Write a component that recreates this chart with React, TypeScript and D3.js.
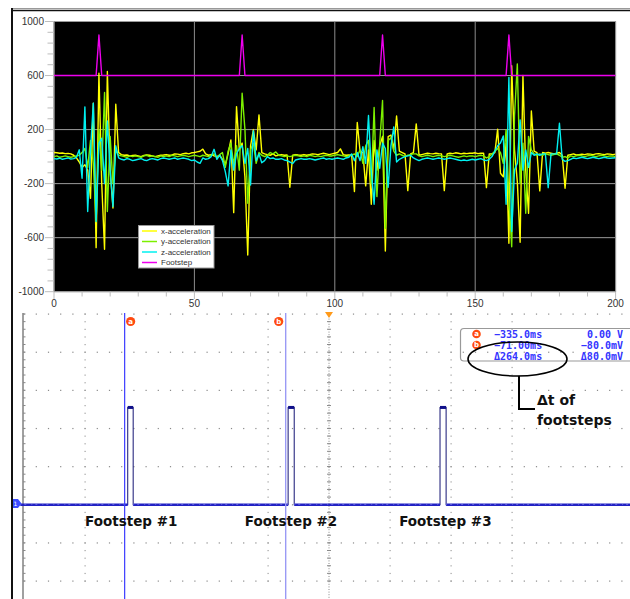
import * as d3 from "d3";

// accelerometer samples (one per index, 0..200)
const xAccel = [
  30, 28, 25, 27, 22, 24, 20, 10, -10, -40,
  -80, -60, -100, -309, 395, -674, 617, -200, -686, 630,
  -100, -380, 388, 30, 15, 10, 12, 5, 8, 10,
  5, 0, 8, 12, 10, 5, 0, 5, 10, 12,
  15, 10, 12, 20, 18, 15, 22, 25, 20, 28,
  30, 35, 40, 55, 20, 10, 15, 5, 0, 10,
  -20, -60, 20, 123, -415, 370, 50, 100, -150, -728,
  80, 200, 50, 309, 30, 20, 15, 10, 20, 5,
  10, 15, 10, 12, -227, 10, 15, 12, 10, 15,
  10, 15, 20, 18, 15, 20, 25, 20, 15,
  20, 25, 30, 57, 15, 10, 12, 10, -259, 252,
  40, 30, -217, 50, -353, 120, -100, 80, 150, -699,
  148, 160, 50, 301, 40, 30, 20, -252, 20, 30,
  242, 10, 15, 20, 25, 22, 20, 25, 22, 20,
  -252, 20, 25, 22, 28, 25, 20, 25, 22, 25,
  25, 28, 22, 25, 25, -230, 20, 20, 30, 203,
  -123, -150, 100, -642, 672, 50, -185, -634, 600, -100,
  -420, 338, 40, 30, -254, 30, 25, 30, 25, 20,
  25, 30, 10, -234, 10, 15, 20, 12, 15, 18,
  15, 20, 18, 15, 20, 22, 18, 15, 20, 18,
  15, 18,
];

const yAccel = [
  0, 5, -5, 0, 5, 0, -5, 0, 5, 10,
  30, 60, -80, 120, -50, -481, 200, -100, 474, -407,
  150, -200, 50, 10, 5, 0, -5, 5, 0, 5,
  0, -5, 5, 10, 0, 5, 0, -5, 5, 0,
  5, 0, 10, 5, 0, 5, 10, 5, 0, 5,
  10, 5, 0, 10, 5, 0, 10, 20, -10, 15,
  30, -80, 40, 100, -60, 80, -100, 469, 200, -346,
  50, 100, -50, 30, 10, 0, 10, 30, 20, 35,
  10, 5, 0, 5, 0, 5, 10, 5, 0, 5,
  0, 10, 5, 0, 5, 0, 5, 10, 5,
  5, 10, 15, 10, 5, 0, 5, 10, 20, 0,
  50, -50, 80, 120, -200, 363, -296, 100, 415, -530,
  120, 140, 40, 10, 20, 10, 0, 10, 15, 20,
  20, 5, 0, 5, 10, 5, 0, 5, 10, 5,
  0, 5, 10, 5, 0, -5, 0, 5, 0, 5,
  5, 0, 5, 10, 5, -10, 0, 20, 40, 60,
  30, -50, 200, -300, -667, 300, 686, -200, 100, -420,
  150, 50, 20, 10, 20, 10, 20, 15, 10, 15,
  20, 10, -5, 0, -10, 5, 0, 5, 10, 5,
  0, 5, 10, 5, 0, 5, 10, 5, 0, 5,
  5, 0,
];

const zAccel = [
  -15, -18, -12, -20, -15, -10, -18, -15, -5, 50,
  -160, 368, -407, 50, 395, -481, 100, 136, -200, 264,
  -100, -370, 80, -10, -20, -25, -15, -20, -30, -25,
  -20, -15, -25, -30, -20, -15, -20, -25, -15, -10,
  -15, -20, -15, -10, -20, -15, -10, -15, -20, -30,
  -25, -40, -50, -10, -20, -15, 0, 54, -20, 10,
  -30, -111, -217, 50, -100, 20, 60, 80, -50, 60,
  -210, 190, -30, 20, -45, -30, 0, -15, -10, -20,
  -20, -15, -25, -30, -40, -52, -25, -20, -15, -20,
  -20, -15, -20, -25, -20, -15, -10, -20, -15,
  -20, -15, -10, -15, -20, -10, -5, 20, -30, 30,
  -30, 74, -50, 304, -100, -353, 50, -86, 100, 60,
  -227, 80, 220, -40, -20, -10, 0, 5, 10, -10,
  -20, -30, -20, -15, -10, -15, -20, -15, -10, -15,
  -20, -15, -10, -15, -20, -25, -30, -25, -30, -25,
  -20, -25, -20, -15, -25, -30, -20, 0, 40, 80,
  100, 153, -353, 585, -555, -100, -50, 272, -100, 50,
  -80, 30, 10, 20, 10, 20, 20, -230, 20, 20,
  20, 247, -20, -35, -30, -20, -10, -15, -10, -5,
  -10, -15, -10, -5, -10, -15, -10, -5, -10, -12,
  -10, -8,
];

const footstep = [
  600, 600, 600, 600, 600, 600, 600, 600, 600, 600,
  600, 600, 600, 600, 600, 600, 900, 600, 600, 600,
  600, 600, 600, 600, 600, 600, 600, 600, 600, 600,
  600, 600, 600, 600, 600, 600, 600, 600, 600, 600,
  600, 600, 600, 600, 600, 600, 600, 600, 600, 600,
  600, 600, 600, 600, 600, 600, 600, 600, 600, 600,
  600, 600, 600, 600, 600, 600, 600, 900, 600, 600,
  600, 600, 600, 600, 600, 600, 600, 600, 600, 600,
  600, 600, 600, 600, 600, 600, 600, 600, 600, 600,
  600, 600, 600, 600, 600, 600, 600, 600, 600, 600,
  600, 600, 600, 600, 600, 600, 600, 600, 600, 600,
  600, 600, 600, 600, 600, 600, 600, 900, 600, 600,
  600, 600, 600, 600, 600, 600, 600, 600, 600, 600,
  600, 600, 600, 600, 600, 600, 600, 600, 600, 600,
  600, 600, 600, 600, 600, 600, 600, 600, 600, 600,
  600, 600, 600, 600, 600, 600, 600, 600, 600, 600,
  600, 600, 900, 600, 600, 600, 600, 600, 600, 600,
  600, 600, 600, 600, 600, 600, 600, 600, 600, 600,
  600, 600, 600, 600, 600, 600, 600, 600, 600, 600,
  600, 600, 600, 600, 600, 600, 600, 600, 600, 600,
  600,
];

const seriesNames = ["x-acceleration", "y-acceleration", "z-acceleration", "Footstep"];
const seriesColors = ["#ffff00", "#7cf000", "#00f0f0", "#ee00ee"];
const seriesValues = [xAccel, yAccel, zAccel, footstep];

const xTicks = [0, 50, 100, 150, 200];
const yTicks = [1000, 600, 200, -200, -600, -1000];

// scope capture (time in ms, volts)
const pulseStart = [-330, -67, 182];
const pulseEnd = [-321, -57, 192];
const pulseLevel = 2.55;
const cursorA = -335;
const cursorB = -71;
const readoutLeft = ["\u2212335.0ms", "\u221271.00ms", "\u0394264.0ms"];
const readoutRight = ["0.00 V", "\u221280.0mV", "\u039480.0mV"];
const stepLabels = ["Footstep #1", "Footstep #2", "Footstep #3"];
const stepLabelMs = [-400, -138, 115];
const dotCols = [-400, -100, 100, 200, 300];
const vRows = [5, 4, 3, 2, 1, 0, -1, -2];

const W = 630;
const H = 599;

export default function App() {
  // top chart
  const x = d3.scaleLinear().domain([0, 200]).range([54, 615.6]);
  const y = d3.scaleLinear().domain([-1000, 1000]).range([291.7, 21.5]);
  const line = d3
    .line<number>()
    .x((_, i) => x(i))
    .y((d) => y(d));

  const yMinor = d3.range(-1000, 1001, 80);
  const xMinor = d3.range(0, 201, 10);

  // bottom scope
  const t = d3.scaleLinear().domain([-500, 500]).range([24, 634]);
  const v = d3.scaleLinear().domain([-2, 5]).range([581, 314]);

  const sig: [number, number][] = [[-506, 0]];
  pulseStart.forEach((s, i) => {
    sig.push([s, 0], [s, pulseLevel], [pulseEnd[i], pulseLevel], [pulseEnd[i], 0]);
  });
  sig.push([510, 0]);
  const sigLine = d3
    .line<[number, number]>()
    .x((d) => t(d[0]))
    .y((d) => v(d[1]));

  // flat stretches of the trace between pulses
  const lowStarts = [-506, ...pulseEnd];
  const lowEnds = [...pulseStart, 510];

  const rowDots = d3.range(-500, 501, 20);
  const colDots = d3.range(-2, 5.01, 0.2);
  const legendY = [231, 241.5, 252, 262.5];

  return (
    <svg
      width={W}
      height={H}
      style={{ position: "absolute", left: 0, top: 0, display: "block", background: "#fff" }}
    >
      <defs>
        <clipPath id="plot">
          <rect x={54} y={21.5} width={561.6} height={270.2} />
        </clipPath>
      </defs>

      {/* window frame */}
      <line x1={12} x2={W} y1={8.5} y2={8.5} stroke="#999" />
      <line x1={12} x2={W} y1={10.5} y2={10.5} stroke="#111" strokeWidth={1.6} />
      <line x1={12} x2={12} y1={8} y2={H} stroke="#111" strokeWidth={2} />

      {/* top plot */}
      <rect x={54} y={21.5} width={561.6} height={270.2} fill="#000" stroke="#a8a8a8" />
      {yTicks.map((d) => (
        <line key={"gy" + d} x1={54} x2={615.6} y1={y(d)} y2={y(d)} stroke="#9a9a9a" />
      ))}
      {xTicks.map((d) => (
        <line key={"gx" + d} x1={x(d)} x2={x(d)} y1={21.5} y2={291.7} stroke="#8c8c8c" />
      ))}
      {yMinor.map((d) => (
        <line
          key={"my" + d}
          x1={yTicks.includes(d) ? 45 : 47.5}
          x2={54}
          y1={y(d)}
          y2={y(d)}
          stroke="#bdbdbd"
        />
      ))}
      {xMinor.map((d) => (
        <line
          key={"mx" + d}
          x1={x(d)}
          x2={x(d)}
          y1={291.7}
          y2={xTicks.includes(d) ? 299 : 296.5}
          stroke="#bdbdbd"
        />
      ))}
      {yTicks.map((d) => (
        <text
          key={"ty" + d}
          x={44}
          y={y(d)}
          dy="0.35em"
          textAnchor="end"
          fontFamily="Liberation Sans, Arial, sans-serif"
          fontSize={10}
          fill="#333"
        >
          {d}
        </text>
      ))}
      {xTicks.map((d) => (
        <text
          key={"tx" + d}
          x={x(d)}
          y={303.5}
          dy="0.35em"
          textAnchor="middle"
          fontFamily="Liberation Sans, Arial, sans-serif"
          fontSize={10}
          fill="#333"
        >
          {d}
        </text>
      ))}
      <g clipPath="url(#plot)">
        {seriesValues.map((vals, i) => (
          <path
            key={seriesNames[i]}
            d={line(vals) ?? ""}
            fill="none"
            stroke={seriesColors[i]}
            strokeWidth={1.4}
            strokeLinejoin="round"
          />
        ))}
      </g>

      {/* legend */}
      <rect x={138.5} y={225.5} width={75.5} height={42.5} fill="#fff" stroke="#999" />
      {seriesNames.map((n, i) => (
        <g key={"lg" + n}>
          <line x1={142} x2={157} y1={legendY[i]} y2={legendY[i]} stroke={seriesColors[i]} strokeWidth={1.5} />
          <text
            x={161}
            y={legendY[i]}
            dy="0.35em"
            fontFamily="Liberation Sans, Arial, sans-serif"
            fontSize={8}
            fill="#333"
          >
            {n}
          </text>
        </g>
      ))}

      {/* bottom scope */}
      <line x1={23} x2={23} y1={313} y2={H} stroke="#a0a0a0" strokeWidth={2} />
      {d3.range(-2, 5.01, 0.2).map((d) => (
        <line key={"lt" + d.toFixed(1)} x1={23} x2={25.5} y1={v(d)} y2={v(d)} stroke="#888" />
      ))}
      {vRows.map((r) =>
        rowDots.map((d) => (
          <rect key={"rd" + r + "_" + d} x={t(d) - 0.5} y={v(r) - 0.5} width={1.2} height={1.2} fill="#8a8a8a" />
        ))
      )}
      {dotCols.map((c) =>
        colDots.map((d) => (
          <rect key={"cd" + c + "_" + d.toFixed(1)} x={t(c) - 0.5} y={v(d) - 0.5} width={1.2} height={1.2} fill="#a0a0a0" />
        ))
      )}
      <line x1={t(0)} x2={t(0)} y1={316} y2={H} stroke="#8a8a8a" strokeDasharray="1 1.6" />
      {colDots.map((d) => (
        <line key={"ct" + d.toFixed(1)} x1={t(0) - 2} x2={t(0) + 2} y1={v(d)} y2={v(d)} stroke="#8a8a8a" />
      ))}
      <polygon points={`${t(0) - 4},312 ${t(0) + 4},312 ${t(0)},318`} fill="#ff9a1a" />

      {/* signal */}
      <path d={sigLine(sig) ?? ""} fill="none" stroke="#2a2a80" strokeWidth={1.1} />
      {lowStarts.map((s, i) => (
        <g key={"low" + i}>
          <line x1={t(s)} x2={t(lowEnds[i])} y1={v(0)} y2={v(0)} stroke="#2222c4" strokeWidth={2.6} />
          <line
            x1={t(s)}
            x2={t(lowEnds[i])}
            y1={v(0) - 0.6}
            y2={v(0) - 0.6}
            stroke="#9a9af0"
            strokeWidth={0.8}
            strokeDasharray="1 3 2 5"
          />
        </g>
      ))}
      {pulseStart.map((s, i) => (
        <rect key={"cap" + i} x={t(s)} y={v(pulseLevel) - 1.5} width={t(pulseEnd[i]) - t(s)} height={3} fill="#10108a" />
      ))}
      <polygon points="13,499 18,499 21.5,503.5 18,508 13,508" fill="#3a4cff" />
      <text x={15.5} y={503.5} dy="0.35em" fontSize={6} fontFamily="DejaVu Sans, sans-serif" fill="#fff" textAnchor="middle">
        1
      </text>

      {/* cursors */}
      <line x1={t(cursorA)} x2={t(cursorA)} y1={313} y2={H} stroke="#3c3cff" strokeWidth={1.2} />
      <line x1={t(cursorB)} x2={t(cursorB)} y1={313} y2={H} stroke="#9a9af5" strokeWidth={1.4} />
      {[
        ["a", t(cursorA) + 6],
        ["b", t(cursorB) - 7],
      ].map(([lab, cx]) => (
        <g key={"cm" + lab}>
          <circle cx={cx as number} cy={321.5} r={4.6} fill="#ff4a10" />
          <text
            x={cx as number}
            y={321.5}
            dy="0.35em"
            textAnchor="middle"
            fontSize={7}
            fontWeight="bold"
            fontFamily="DejaVu Sans, sans-serif"
            fill="#fff"
          >
            {lab}
          </text>
        </g>
      ))}

      {/* readout */}
      <path d="M630 328.5 H464 Q460.5 328.5 460.5 332 V357.5 Q460.5 361 464 361 H630" fill="none" stroke="#999" strokeWidth={1.2} />
      {["a", "b"].map((lab, i) => (
        <g key={"rc" + lab}>
          <circle cx={476.5} cy={334 + i * 11} r={4.3} fill="#ff4a10" />
          <text x={476.5} y={334 + i * 11} dy="0.35em" textAnchor="middle" fontSize={7} fontWeight="bold" fontFamily="DejaVu Sans, sans-serif" fill="#fff">
            {lab}
          </text>
        </g>
      ))}
      {readoutLeft.map((s, i) => (
        <text key={"rl" + i} x={494} y={334 + i * 11} dy="0.35em" fontSize={10} fontWeight="bold" fontFamily="DejaVu Sans Mono, monospace" fill="#3434ff">
          {s}
        </text>
      ))}
      {readoutRight.map((s, i) => (
        <text key={"rr" + i} x={623} y={334 + i * 11} dy="0.35em" textAnchor="end" fontSize={10} fontWeight="bold" fontFamily="DejaVu Sans Mono, monospace" fill="#3434ff">
          {s}
        </text>
      ))}
      <ellipse cx={517.5} cy={359} rx={49.5} ry={17} fill="none" stroke="#000" strokeWidth={1.6} />
      <path d="M519 376 V409 H535" fill="none" stroke="#000" strokeWidth={2} />
      <text x={537} y={405} fontSize={14} fontWeight="bold" fontFamily="DejaVu Sans, sans-serif" fill="#111">
        {"\u0394t of"}
      </text>
      <text x={537} y={425} fontSize={14} fontWeight="bold" fontFamily="DejaVu Sans, sans-serif" fill="#111">
        footsteps
      </text>

      {stepLabels.map((s, i) => (
        <text
          key={s}
          x={t(stepLabelMs[i])}
          y={526}
          fontSize={13.5}
          fontWeight="bold"
          fontFamily="DejaVu Sans, sans-serif"
          fill="#111"
        >
          {s}
        </text>
      ))}
    </svg>
  );
}
